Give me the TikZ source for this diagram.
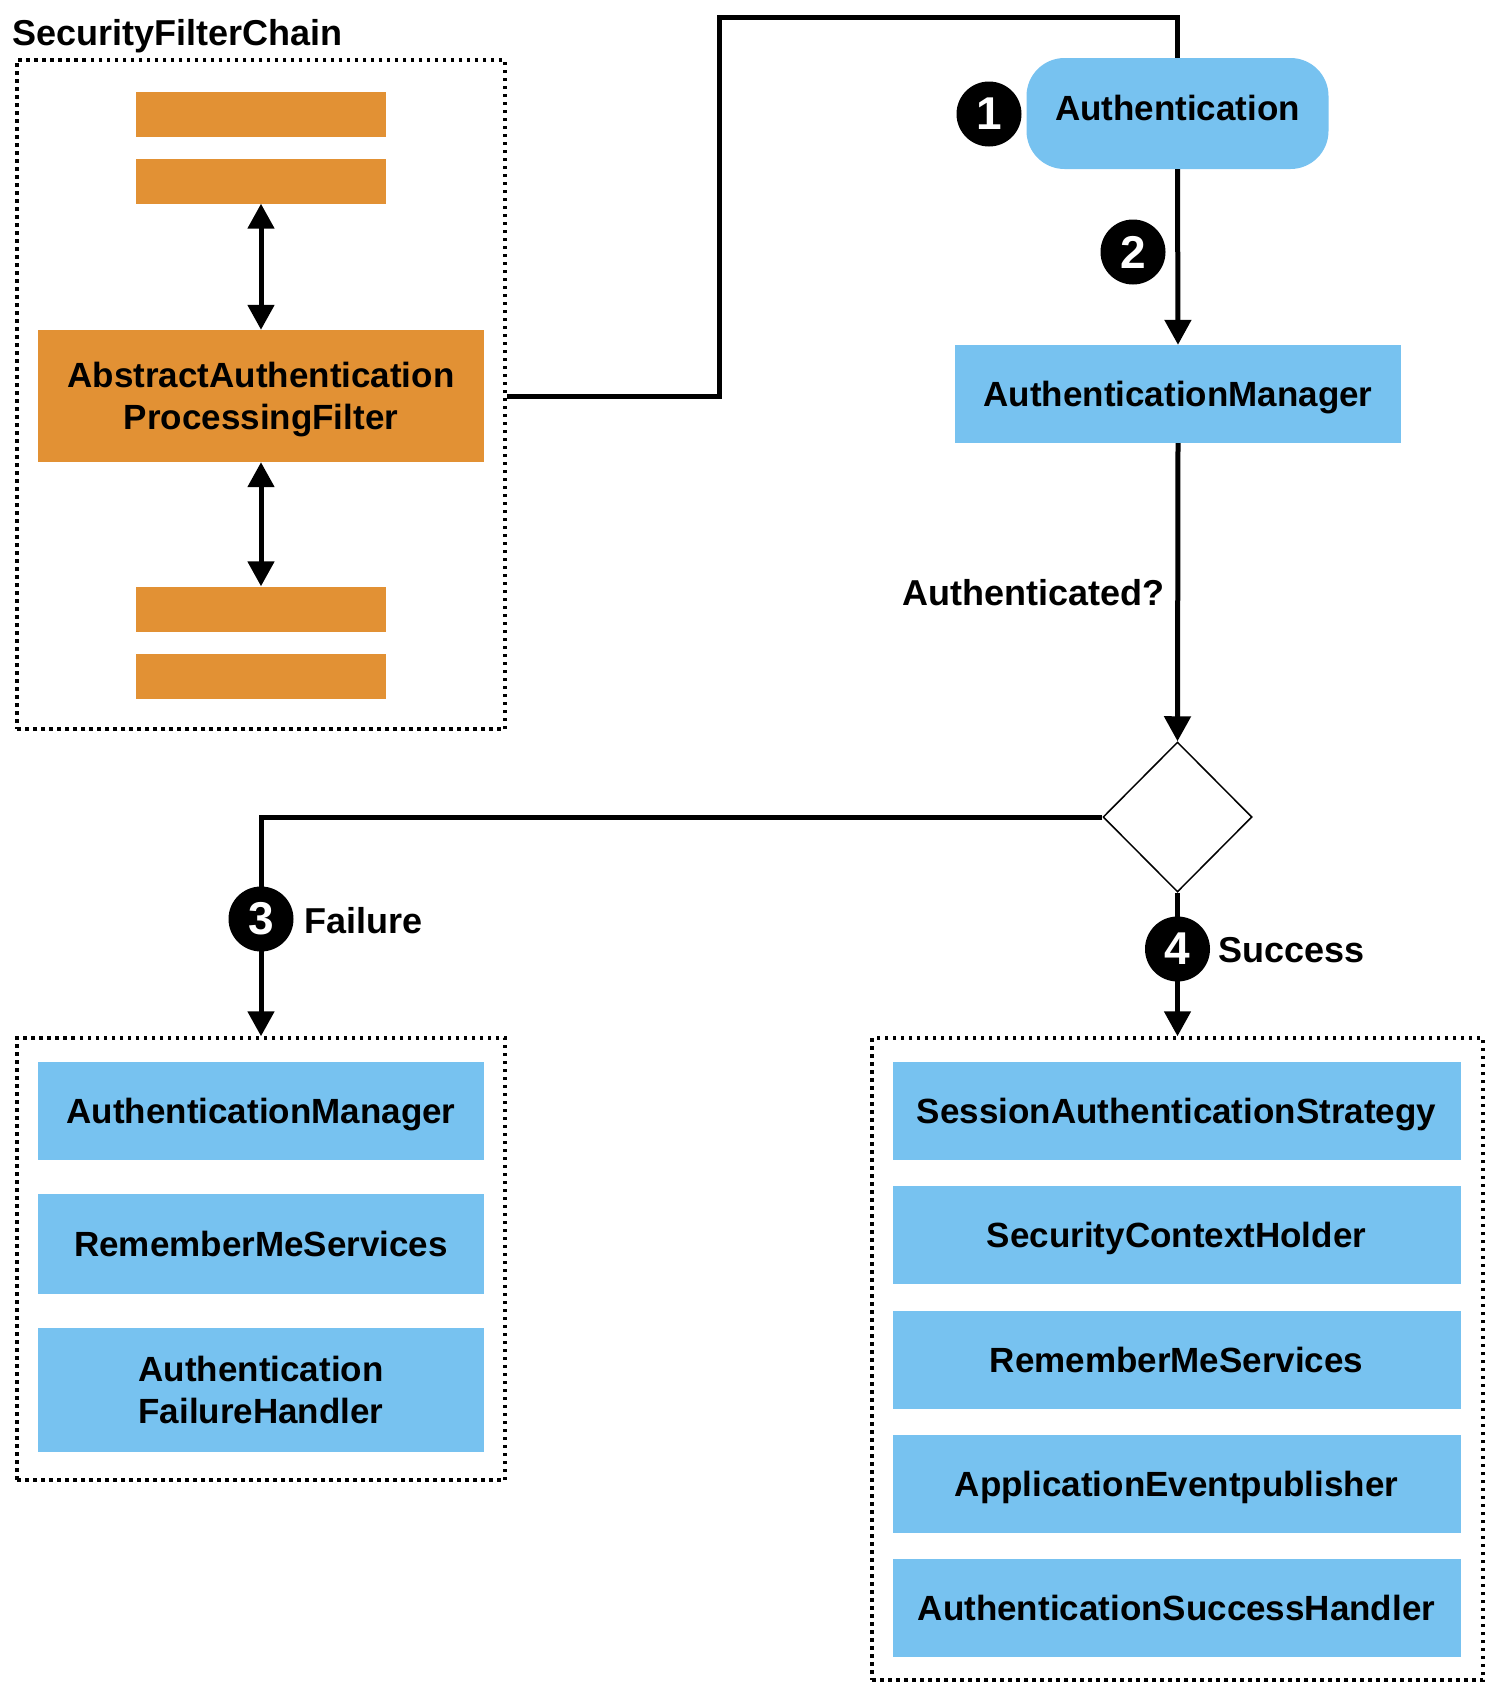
\documentclass[tikz,border=0pt]{standalone}
\usepackage{fontspec}
\setmainfont{Liberation Sans}
\usetikzlibrary{arrows.meta,shapes.geometric}
\definecolor{myorange}{HTML}{E29134}
\definecolor{myblue}{HTML}{77C2F0}
\begin{document}
\begin{tikzpicture}[x=1pt,y=-1pt,
  font=\fontsize{35}{42}\selectfont\bfseries,
  orangebar/.style={fill=myorange, minimum width=250pt, minimum height=45pt, inner sep=0pt},
  filterbox/.style={fill=myorange, minimum width=446pt, minimum height=132pt, inner sep=0pt, align=center, text height=67pt, text depth=0pt},
  bluebox/.style={fill=myblue, minimum width=446pt, minimum height=98pt, inner sep=0pt, text height=25pt, text depth=0pt},
  twoline/.style={align=center, text height=67pt, text depth=0pt},
  widebox/.style={bluebox, minimum width=568pt},
  authbox/.style={fill=myblue, rounded corners=38pt, minimum width=302pt, minimum height=111pt, inner sep=0pt, text height=25pt, text depth=11pt},
  dotbox/.style={draw, line width=3.5pt, dash pattern=on 3.5pt off 4.5pt, inner sep=0pt},
  numcircle/.style={circle, fill=black, text=white, minimum size=65pt, inner sep=0pt, font=\fontsize{46}{46}\selectfont\bfseries},
  conn/.style={line width=5pt},
  arr/.style={conn, -{Triangle[width=26pt,length=25pt]}},
  darr/.style={conn, {Triangle[width=26pt,length=25pt]}-{Triangle[width=26pt,length=25pt]}},
  decision/.style={diamond, draw, line width=1.5pt, minimum width=149pt, minimum height=150pt, inner sep=0pt, aspect=1},
  lbl/.style={inner sep=0pt, font=\fontsize{36}{42}\selectfont\bfseries}
]
\useasboundingbox (0,0) rectangle (1486,1684);

% Security filter chain
\node[lbl, anchor=base west] (title) at (12,45) {SecurityFilterChain};
\node[dotbox, minimum width=488pt, minimum height=669pt] (chain) at (261,394.5) {};
\node[orangebar] (bar1) at (261,114) {};
\node[orangebar] (bar2) at (261,181) {};
\node[filterbox] (filter) at (261,396) {AbstractAuthentication\\ProcessingFilter};
\node[orangebar] (bar3) at (261,609) {};
\node[orangebar] (bar4) at (261,676) {};
\draw[darr] (bar2.south) -- (filter.north);
\draw[darr] (filter.south) -- (bar3.north);

% Authentication flow
\node[authbox] (auth) at (1177.5,113.5) {Authentication};
\node[bluebox] (am) at (1178,394) {AuthenticationManager};
\node[lbl, anchor=base east] (authq) at (1165,605) {Authenticated?};
\node[decision] (dec) at (1177.5,817) {};

% Failure box
\node[dotbox, minimum width=488pt, minimum height=442pt] (fail) at (261,1259) {};
\node[bluebox] (fam) at (261,1111) {AuthenticationManager};
\node[bluebox, minimum height=100pt] (frm) at (261,1244) {RememberMeServices};
\node[bluebox, minimum height=124pt, twoline] (fah) at (261,1390) {Authentication\\FailureHandler};

% Success box
\node[dotbox, minimum width=611pt, minimum height=642pt] (succ) at (1177.5,1359) {};
\node[widebox] (s1) at (1176.5,1111) {SessionAuthenticationStrategy};
\node[widebox] (s2) at (1176.5,1235) {SecurityContextHolder};
\node[widebox] (s3) at (1176.5,1359.5) {RememberMeServices};
\node[widebox] (s4) at (1176.5,1484) {ApplicationEventpublisher};
\node[widebox] (s5) at (1176.5,1607.5) {AuthenticationSuccessHandler};

% Connectors
\coordinate (bend) at (719,17);
\draw[conn] (chain.east |- filter.east) -- (bend |- filter.east) -- (bend) -- (bend -| auth.north) -- (auth.north);
\draw[arr] (auth.south) -- (am.north);
\draw[arr] (am.south) -- (dec.north);
\draw[arr] (dec.west) -| (fail.north);
\draw[arr] (dec.south) -- (succ.north);

% Step markers
\node[numcircle] (n1) at (989,114) {1};
\node[numcircle] (n2) at (1133,252) {2};
\node[numcircle] (n3) at (261,919) {3};
\node[numcircle] (n4) at (1177.5,949) {4};
\node[lbl, anchor=base west] (failure) at (304,933) {Failure};
\node[lbl, anchor=base west] (success) at (1218,962) {Success};
\end{tikzpicture}
\end{document}
